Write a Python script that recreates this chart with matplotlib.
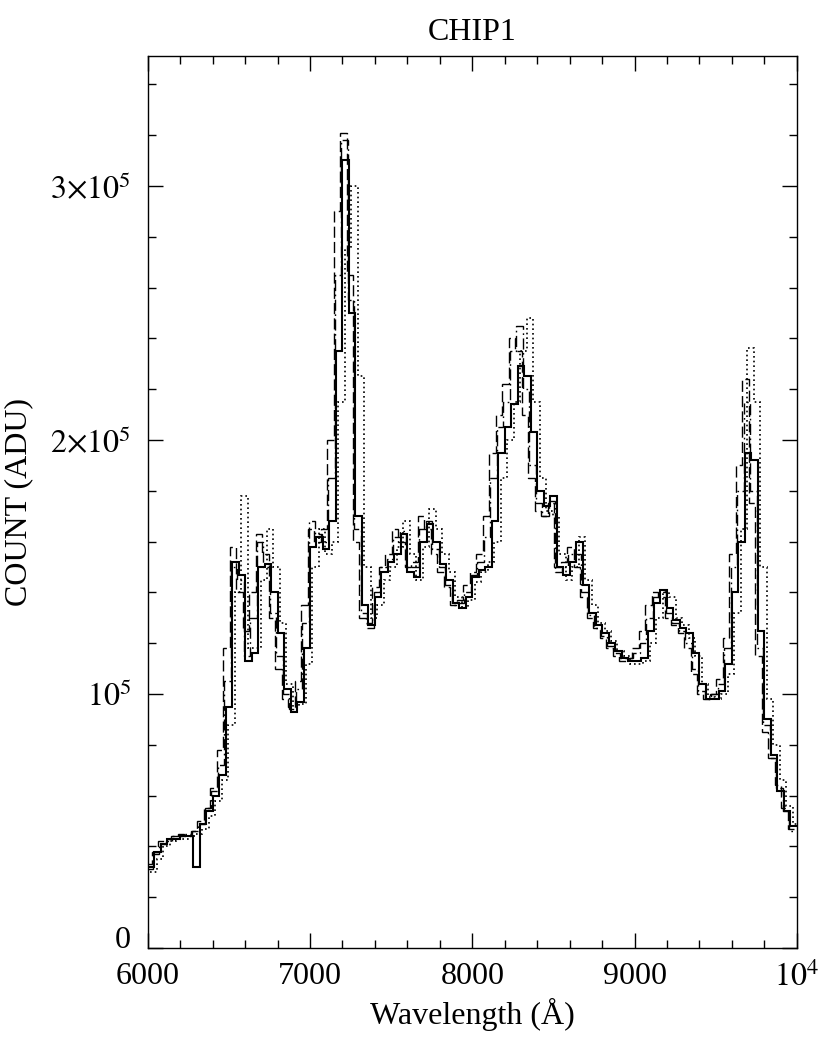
import numpy as np
import matplotlib
matplotlib.use("Agg")
import matplotlib.pyplot as plt
from matplotlib.ticker import MultipleLocator, FixedLocator, FixedFormatter

plt.rcParams['font.family'] = ['Liberation Serif', 'DejaVu Serif']
plt.rcParams['mathtext.fontset'] = 'stix'

# wavelength bins (Angstrom), 40 A wide
wave_start = 6000
wave_stop = 10000
bin_width = 40

# counts in units of 1000 ADU, one value per bin
solid = [32, 38, 41, 43, 43, 44, 44, 32, 49, 54,
         60, 68, 95, 152, 147, 113, 116, 150, 151, 140,
         124, 102, 93, 97, 118, 158, 162, 157, 168, 235,
         310, 250, 170, 135, 127, 138, 148, 152, 155, 163,
         148, 146, 160, 167, 160, 151, 145, 136, 134, 138,
         146, 149, 150, 168, 195, 205, 214, 229, 225, 203,
         180, 174, 178, 150, 147, 152, 160, 143, 132, 127,
         124, 120, 117, 114, 113, 113, 114, 125, 136, 141,
         134, 129, 126, 124, 116, 104, 98, 98, 101, 112,
         140, 160, 195, 192, 125, 90, 76, 62, 54, 48]
dashed = [33, 38, 42, 43, 44, 45, 44, 46, 50, 55,
          63, 78, 118, 158, 140, 125, 140, 163, 155, 130,
          110, 98, 95, 105, 135, 165, 160, 165, 200, 290,
          321, 265, 160, 130, 128, 142, 150, 155, 165, 160,
          150, 152, 170, 165, 155, 148, 142, 135, 137, 143,
          148, 155, 170, 195, 210, 222, 240, 235, 210, 185,
          172, 170, 175, 150, 152, 158, 150, 138, 130, 126,
          122, 118, 115, 113, 114, 118, 125, 135, 140, 138,
          130, 127, 124, 118, 108, 100, 98, 100, 106, 122,
          155, 190, 224, 175, 115, 85, 75, 64, 55, 47]
dotted = [30, 35, 40, 42, 43, 43, 44, 45, 47, 52,
          58, 66, 88, 140, 178, 118, 118, 145, 165, 150,
          128, 104, 95, 96, 112, 150, 165, 155, 160, 215,
          275, 300, 225, 150, 130, 135, 145, 150, 158, 168,
          155, 145, 158, 173, 165, 155, 148, 138, 134, 137,
          144, 148, 152, 160, 185, 200, 215, 235, 248, 215,
          185, 172, 170, 155, 145, 150, 162, 145, 135, 128,
          125, 121, 117, 115, 112, 112, 113, 120, 130, 140,
          138, 130, 127, 122, 115, 104, 99, 98, 100, 108,
          132, 165, 236, 215, 150, 98, 80, 66, 56, 49]
dashdot = [31, 37, 41, 42, 44, 44, 45, 46, 49, 55,
           62, 72, 105, 150, 145, 115, 130, 160, 150, 132,
           115, 100, 94, 102, 128, 168, 163, 160, 185, 265,
           318, 255, 165, 132, 126, 140, 150, 153, 162, 164,
           150, 150, 165, 168, 157, 150, 143, 135, 136, 140,
           147, 152, 162, 185, 205, 215, 235, 245, 220, 190,
           175, 170, 176, 148, 150, 155, 155, 140, 131, 126,
           123, 119, 116, 114, 114, 116, 120, 130, 138, 140,
           132, 128, 125, 120, 110, 101, 98, 100, 104, 118,
           150, 180, 215, 180, 118, 88, 75, 63, 54, 46]

x_ticks = [6000, 7000, 8000, 9000, 10000]
x_labels = ['6000', '7000', '8000', '9000', r'$10^4$']
y_ticks = [0, 100000, 200000, 300000]
y_labels = ['0', r'$10^5$', r'$2{\times}10^5$', r'$3{\times}10^5$']

edges = np.arange(wave_start, wave_stop + bin_width, bin_width)

# each series sits on a slightly offset wavelength grid
series = [
    (solid, 0, '-', 1.5),
    (dashed, -15, (0, (8, 3)), 1.0),
    (dotted, 15, (0, (1, 1.8)), 1.2),
    (dashdot, -8, (0, (8, 2.5, 1.2, 2.5)), 1.0),
]

fig = plt.figure(figsize=(8.3, 10.43), dpi=100)
ax = fig.add_axes([0.178, 0.091, 0.782, 0.855])

for vals, shift, ls, lw in series:
    ax.stairs(np.array(vals) * 1e3, edges + shift, baseline=None,
              color='black', linestyle=ls, linewidth=lw)

ax.set_xlim(6000, 10000)
ax.set_ylim(0, 351000)

ax.xaxis.set_major_locator(FixedLocator(x_ticks))
ax.xaxis.set_major_formatter(FixedFormatter(x_labels))
ax.xaxis.set_minor_locator(MultipleLocator(200))
ax.yaxis.set_major_locator(FixedLocator(y_ticks))
ax.yaxis.set_major_formatter(FixedFormatter(y_labels))
ax.yaxis.set_minor_locator(MultipleLocator(20000))

ax.tick_params(which='both', direction='in', top=True, right=True,
               width=1.0, labelsize=23)
ax.tick_params(axis='x', which='major', length=11, pad=10)
ax.tick_params(axis='y', which='major', length=11, pad=12)
ax.tick_params(which='minor', length=6)
for sp in ax.spines.values():
    sp.set_linewidth(1.0)

# sit the "0" on its tick so it clears the 6000 label below it
ax.get_yticklabels()[0].set_verticalalignment('baseline')

ax.set_xlabel('Wavelength (Å)', fontsize=23, labelpad=4)
ax.set_ylabel('COUNT (ADU)', fontsize=23, labelpad=12)
ax.set_title('CHIP1', fontsize=23, pad=12)

fig.savefig('out.png', dpi=100)
